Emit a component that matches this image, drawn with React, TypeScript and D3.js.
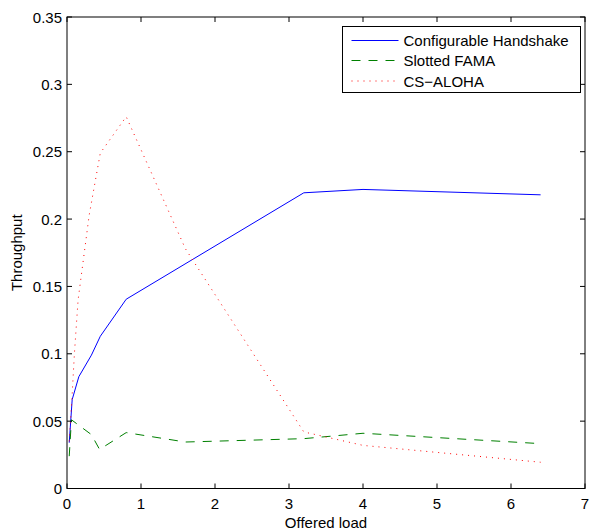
import React from "react";
import * as d3 from "d3";

const xTicks = [0, 1, 2, 3, 4, 5, 6, 7];
const yTicks = [0, 0.05, 0.1, 0.15, 0.2, 0.25, 0.3, 0.35];
const yTickLabels = ["0", "0.05", "0.1", "0.15", "0.2", "0.25", "0.3", "0.35"];

const handshakeX = [0.03, 0.07, 0.16, 0.33, 0.45, 0.8, 3.2, 4.0, 6.4];
const handshakeY = [0.034, 0.066, 0.083, 0.099, 0.113, 0.1405, 0.2195, 0.222, 0.218];

const famaX = [0.03, 0.06, 0.33, 0.44, 0.8, 1.6, 3.2, 4.0, 6.4];
const famaY = [0.024, 0.051, 0.04, 0.029, 0.0415, 0.0345, 0.037, 0.041, 0.0333];

const alohaX = [0.03, 0.07, 0.1, 0.15, 0.3, 0.45, 0.8, 1.6, 3.2, 4.0, 6.4];
const alohaY = [0.035, 0.07, 0.1, 0.14, 0.203, 0.249, 0.276, 0.178, 0.042, 0.032, 0.0195];

const seriesNames = ["Configurable Handshake", "Slotted FAMA", "CS\u2212ALOHA"];

const W = 589;
const H = 531;
const L = 67;
const R = 585;
const T = 17;
const B = 488.5;
const FONT = "'Liberation Sans', Arial, sans-serif";

export default function App() {
  const x = d3.scaleLinear().domain([0, 7]).range([L, R]);
  const y = d3.scaleLinear().domain([0, 0.35]).range([B, T]);
  const line = d3
    .line<[number, number]>()
    .x((d) => x(d[0]))
    .y((d) => y(d[1]));

  const series = [
    { xs: handshakeX, ys: handshakeY, color: "#0000ff", dash: undefined as string | undefined, width: 1 },
    { xs: famaX, ys: famaY, color: "#008000", dash: "9 8", width: 1 },
    { xs: alohaX, ys: alohaY, color: "#ff0000", dash: "1 5", width: 1 },
  ];

  const legX0 = 342.5;
  const legY0 = 26.5;
  const legW = 238;
  const legH = 66;
  const rowY = [40.5, 60.5, 81];

  return (
    <svg
      width={W}
      height={H}
      style={{ position: "absolute", left: 0, top: 0, background: "#fff" }}
      fontFamily={FONT}
    >
      <rect x={0} y={0} width={W} height={H} fill="#fff" />
      {series.map((s, i) => (
        <path
          key={i}
          d={line(s.xs.map((v, j) => [v, s.ys[j]] as [number, number])) || ""}
          fill="none"
          stroke={s.color}
          strokeWidth={s.width}
          strokeDasharray={s.dash}
        />
      ))}
      {/* axes box */}
      <rect x={L} y={T} width={R - L} height={B - T} fill="none" stroke="#000" strokeWidth={1} />
      {xTicks.map((t) => (
        <g key={"x" + t}>
          <line x1={x(t)} x2={x(t)} y1={B} y2={B - 5} stroke="#000" />
          <line x1={x(t)} x2={x(t)} y1={T} y2={T + 5} stroke="#000" />
          <text x={x(t)} y={509} fontSize={15} textAnchor="middle" fill="#000">
            {t}
          </text>
        </g>
      ))}
      {yTicks.map((t, i) => (
        <g key={"y" + t}>
          <line x1={L} x2={L + 5} y1={y(t)} y2={y(t)} stroke="#000" />
          <line x1={R} x2={R - 5} y1={y(t)} y2={y(t)} stroke="#000" />
          <text x={62} y={y(t) + 5.5} fontSize={15} textAnchor="end" fill="#000">
            {yTickLabels[i]}
          </text>
        </g>
      ))}
      <text x={(L + R) / 2} y={528} fontSize={15} textAnchor="middle" fill="#000">
        Offered load
      </text>
      <text
        transform={`translate(22,${(T + B) / 2}) rotate(-90)`}
        fontSize={15}
        textAnchor="middle"
        fill="#000"
      >
        Throughput
      </text>
      {/* legend */}
      <rect x={legX0} y={legY0} width={legW} height={legH} fill="#fff" stroke="#000" strokeWidth={1} />
      {series.map((s, i) => (
        <g key={"l" + i}>
          <line
            x1={351.5}
            x2={398.5}
            y1={rowY[i]}
            y2={rowY[i]}
            stroke={s.color}
            strokeWidth={s.width}
            strokeDasharray={s.dash}
          />
          <text x={403.5} y={rowY[i] + 5.5} fontSize={15} fill="#000">
            {seriesNames[i]}
          </text>
        </g>
      ))}
    </svg>
  );
}
